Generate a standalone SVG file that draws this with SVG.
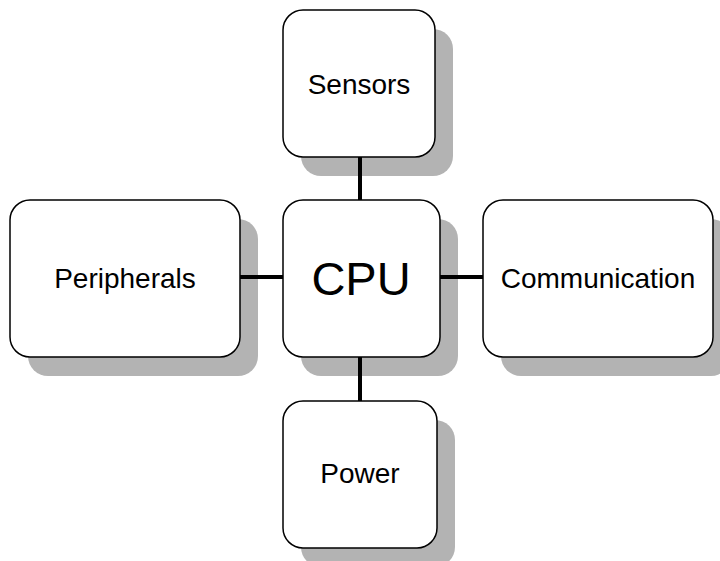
<svg xmlns="http://www.w3.org/2000/svg" width="720" height="561" viewBox="0 0 720 561">
<style>
.sh{fill:#b3b3b3;stroke:none}
.bx{fill:#ffffff;stroke:#000000;stroke-width:1.5}
.t{font-family:"Liberation Sans",Arial,sans-serif;font-size:28px;fill:#000000;text-anchor:middle}
.c{stroke:#000000;stroke-width:4;fill:none}
</style>
<rect width="720" height="561" fill="#ffffff"/>
<g id="shadows">
<rect class="sh" x="301" y="29" width="152" height="147" rx="20"/>
<rect class="sh" x="28" y="219" width="230" height="157" rx="20"/>
<rect class="sh" x="301" y="219" width="157" height="157" rx="20"/>
<rect class="sh" x="501" y="219" width="230" height="157" rx="20"/>
<rect class="sh" x="301" y="420" width="154" height="147" rx="20"/>
</g>
<g id="connectors">
<line class="c" x1="360" y1="157" x2="360" y2="200"/>
<line class="c" x1="360" y1="357" x2="360" y2="401"/>
<line class="c" x1="240" y1="277" x2="283" y2="277"/>
<line class="c" x1="440" y1="277" x2="483" y2="277"/>
</g>
<g id="sensors">
<rect class="bx" x="283" y="10" width="152" height="147" rx="20"/>
<text class="t" x="359" y="94">Sensors</text>
</g>
<g id="peripherals">
<rect class="bx" x="10" y="200" width="230" height="157" rx="20"/>
<text class="t" x="125" y="288">Peripherals</text>
</g>
<g id="cpu">
<rect class="bx" x="283" y="200" width="157" height="157" rx="20"/>
<text class="t" x="361" y="295" style="font-size:47px">CPU</text>
</g>
<g id="communication">
<rect class="bx" x="483" y="200" width="230" height="157" rx="20"/>
<text class="t" x="598" y="288">Communication</text>
</g>
<g id="power">
<rect class="bx" x="283" y="401" width="154" height="147" rx="20"/>
<text class="t" x="360" y="483">Power</text>
</g>
</svg>
